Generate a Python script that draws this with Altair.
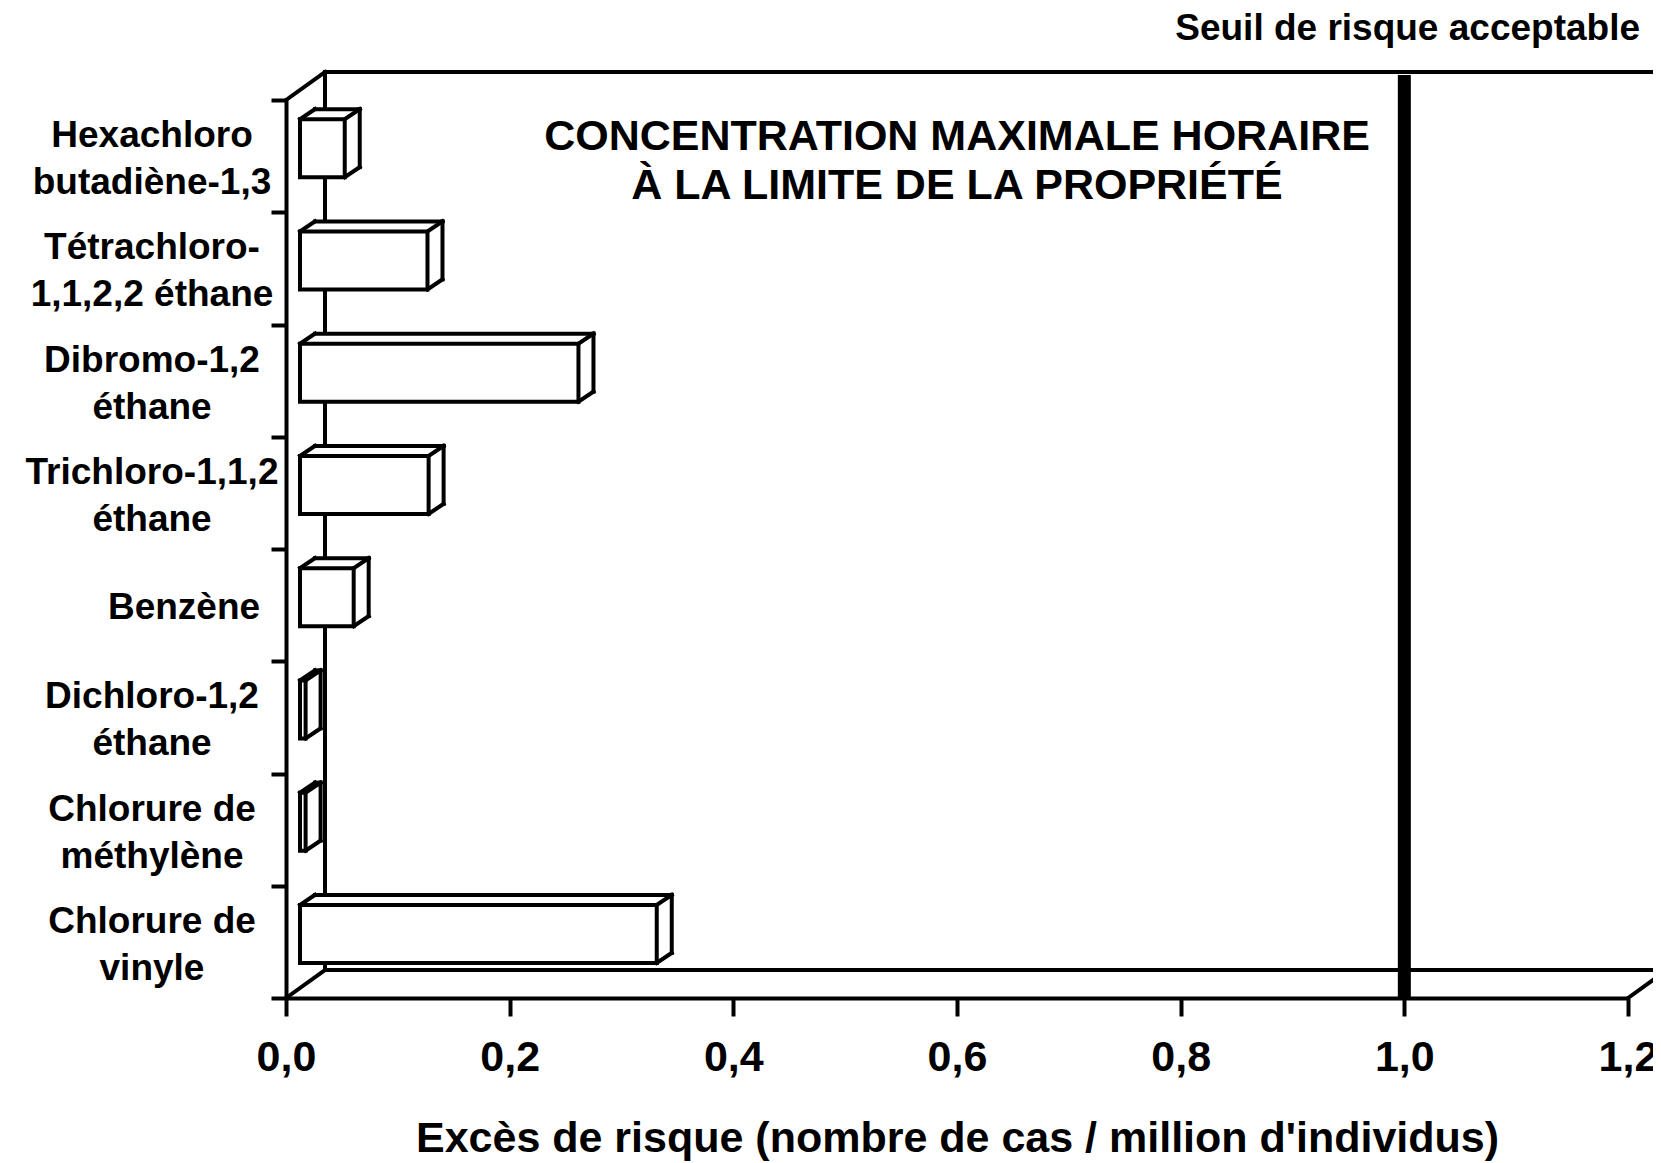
import altair as alt
import pandas as pd

# ---------------- data ----------------
categories = [
    "Hexachloro\nbutadiène-1,3",
    "Tétrachloro-\n1,1,2,2 éthane",
    "Dibromo-1,2\néthane",
    "Trichloro-1,1,2\néthane",
    "Benzène",
    "Dichloro-1,2\néthane",
    "Chlorure de\nméthylène",
    "Chlorure de\nvinyle",
]
values = [0.040, 0.114, 0.249, 0.115, 0.048, 0.005, 0.005, 0.319]
x_ticks = [0.0, 0.2, 0.4, 0.6, 0.8, 1.0, 1.2]
threshold = [1.0]
threshold_label = ["Seuil de risque acceptable"]
title_lines = ["CONCENTRATION MAXIMALE HORAIRE", "À LA LIMITE DE LA PROPRIÉTÉ"]
x_title = "Excès de risque (nombre de cas / million d'individus)"

df = pd.DataFrame({
    "cat": categories,
    "value": values,
    "pos": [i + 0.5 for i in range(len(categories))],
})
one = pd.DataFrame({"k": [0]})

# ---------------- layout / style ----------------
FONT = "Liberation Sans"
W, H = 1342, 898
DX, DY = 39, -28          # depth of the back wall (px)
SW = 4                    # line width
FX = 14                   # bar front face shift
BDX = 15                  # bar depth x
FT, FB = -37, 21          # bar front face top / bottom offset from band centre
BT, BB = FT - 10, FB - 10 # bar back face top / bottom
BXB = FX + BDX

XS = alt.Scale(domain=[0, 1.2], nice=False, zero=False)
XA = alt.Axis(
    values=x_ticks, title=x_title, grid=False,
    labelExpr="replace(format(datum.value, '.1f'), '.', ',')",
    domainWidth=SW, domainColor="black", tickWidth=SW, tickColor="black", tickSize=18,
    labelFont=FONT, labelFontWeight="bold", labelFontSize=43, labelColor="black",
    labelPadding=20, labelFlush=False, labelOverlap=False,
    titleFont=FONT, titleFontWeight="bold", titleFontSize=43, titleColor="black",
    titlePadding=38,
)
YS = alt.Scale(domain=[0, len(categories)], reverse=True, nice=False, zero=False)

MULTI = "indexof(datum.cat, '\\n') >= 0"


def xf(field):
    return alt.X(f"{field}:Q", scale=XS, axis=XA)


def xd(v):
    return alt.XDatum(v, type="quantitative", scale=XS, axis=XA)


def yq():
    return alt.Y("pos:Q", scale=YS, axis=None)


# axis layer (band scale gives the front axis line and boundary ticks)
axis_layer = alt.Chart(df).mark_point(opacity=0).encode(
    x=xd(0),
    y=alt.Y(
        "cat:N", sort=categories,
        scale=alt.Scale(type="band", paddingInner=0, paddingOuter=0),
        axis=alt.Axis(
            title=None, tickBand="extent", labels=False,
            domainWidth=SW, domainColor="black", tickWidth=SW,
            tickColor="black", tickSize=15, grid=False,
        ),
    ),
)

frame_base = alt.Chart(one)
rule_kw = dict(color="black", strokeWidth=SW, strokeCap="square")

frame = [
    # top-left diagonal
    frame_base.mark_rule(x2Offset=DX, **rule_kw).encode(
        x=xd(0), x2=alt.X2Datum(0), y=alt.value(0), y2=alt.value(DY)),
    # back wall vertical
    frame_base.mark_rule(xOffset=DX, **rule_kw).encode(
        x=xd(0), y=alt.value(DY), y2=alt.value(H + DY)),
    # back wall top
    frame_base.mark_rule(xOffset=DX, x2Offset=DX, **rule_kw).encode(
        x=xd(0), x2=alt.X2Datum(1.2), y=alt.value(DY)),
    # back floor
    frame_base.mark_rule(xOffset=DX, x2Offset=DX, **rule_kw).encode(
        x=xd(0), x2=alt.X2Datum(1.2), y=alt.value(H + DY)),
    # bottom-left diagonal
    frame_base.mark_rule(x2Offset=DX, **rule_kw).encode(
        x=xd(0), x2=alt.X2Datum(0), y=alt.value(H), y2=alt.value(H + DY)),
    # bottom-right diagonal
    frame_base.mark_rule(x2Offset=DX, **rule_kw).encode(
        x=xd(1.2), x2=alt.X2Datum(1.2), y=alt.value(H), y2=alt.value(H + DY)),
]

thr = alt.Chart(pd.DataFrame({"t": threshold})).mark_rule(
    color="black", strokeWidth=13).encode(
    x=alt.X("t:Q", scale=XS, axis=XA), y=alt.value(DY + 3), y2=alt.value(H - 1))

base = alt.Chart(df)
backing = base.mark_rect(color="white", xOffset=BXB, x2Offset=FX,
                         yOffset=BT, y2Offset=FB).encode(
    x=xf("value"), x2=alt.X2Datum(0), y=yq(), y2="pos:Q")
front = base.mark_rect(fill="white", stroke="black", strokeWidth=SW,
                       xOffset=FX, x2Offset=FX, yOffset=FT, y2Offset=FB).encode(
    x=xf("value"), x2=alt.X2Datum(0), y=yq(), y2="pos:Q")
r_top = base.mark_rule(xOffset=BXB, x2Offset=BXB, yOffset=BT, **rule_kw).encode(
    x=xf("value"), x2=alt.X2Datum(0), y=yq())
r_ldiag = base.mark_rule(xOffset=FX, x2Offset=BXB, yOffset=FT, y2Offset=BT, **rule_kw).encode(
    x=xd(0), x2=alt.X2Datum(0), y=yq(), y2="pos:Q")
r_rdiag = base.mark_rule(xOffset=FX, x2Offset=BXB, yOffset=FT, y2Offset=BT, **rule_kw).encode(
    x=xf("value"), x2="value:Q", y=yq(), y2="pos:Q")
r_rvert = base.mark_rule(xOffset=BXB, yOffset=BT, y2Offset=BB, **rule_kw).encode(
    x=xf("value"), y=yq(), y2="pos:Q")
r_bdiag = base.mark_rule(xOffset=FX, x2Offset=BXB, yOffset=FB, y2Offset=BB, **rule_kw).encode(
    x=xf("value"), x2="value:Q", y=yq(), y2="pos:Q")

# category labels (centred text blocks left of the front axis)
lab_kw = dict(font=FONT, fontWeight="bold", fontSize=37, lineHeight=47,
              lineBreak="\n", align="center", baseline="middle", color="black")
lab_multi = base.transform_filter(MULTI).mark_text(dx=-134, dy=-20, **lab_kw).encode(
    x=xd(0), y=yq(), text="cat:N")
lab_single = base.transform_filter("!(" + MULTI + ")").mark_text(dx=-102, dy=3, **lab_kw).encode(
    x=xd(0), y=yq(), text="cat:N")

title_txt = alt.Chart(one).mark_text(
    text=title_lines, font=FONT, fontWeight="bold", fontSize=43,
    align="center", baseline="alphabetic", lineHeight=49, color="black").encode(
    x=xd(0.6), y=alt.value(50))

seuil_txt = alt.Chart(one).mark_text(
    text=threshold_label[0], font=FONT, fontWeight="bold", fontSize=37,
    align="right", baseline="alphabetic", dx=12, color="black").encode(
    x=xd(1.2), y=alt.value(-60))

inner = alt.layer(*frame, thr, backing, front, r_top, r_ldiag, r_rdiag,
                  r_rvert, r_bdiag, lab_multi, lab_single, title_txt, seuil_txt)

chart = alt.layer(axis_layer, inner).resolve_scale(y="independent").properties(
    width=W, height=H,
    padding={"left": 278, "top": 92, "right": 25, "bottom": 165},
    autosize=alt.AutoSizeParams(type="none"),
    background="white",
).configure_view(stroke=None)

chart.save("out.html", embed_options={"renderer": "svg", "actions": False})
